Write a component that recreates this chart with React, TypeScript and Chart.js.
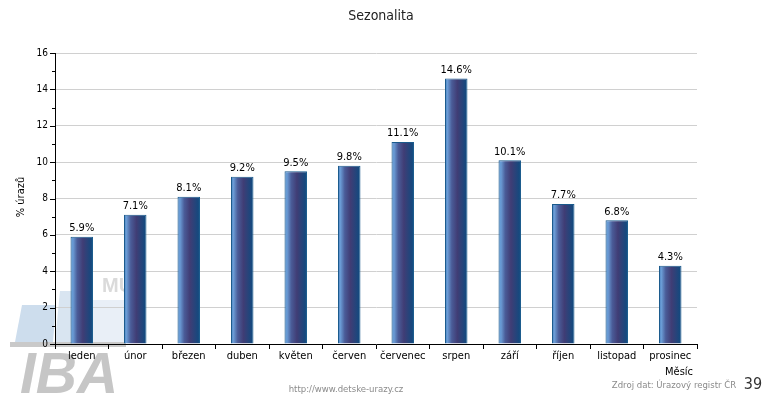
import React, { useEffect, useRef } from 'react';
import { Chart, registerables } from 'chart.js';
Chart.register(...registerables);

const months = ['leden', 'únor', 'březen', 'duben', 'květen', 'červen', 'červenec', 'srpen', 'září', 'říjen', 'listopad', 'prosinec'];
const values = [5.9, 7.1, 8.1, 9.2, 9.5, 9.8, 11.1, 14.6, 10.1, 7.7, 6.8, 4.3];
const yMin = 0;
const yMax = 16;
const yMajorStep = 2;

const FONT = '"DejaVu Sans Condensed", "DejaVu Sans", sans-serif';
const BAR_PCT = 0.42;

const watermarkPlugin = {
  id: 'watermark',
  beforeDraw(chart: any) {
    const ctx = chart.ctx;
    ctx.save();
    ctx.fillStyle = '#cddded';
    ctx.beginPath();
    ctx.moveTo(22, 305); ctx.lineTo(56, 305); ctx.lineTo(53, 342); ctx.lineTo(15, 342); ctx.closePath();
    ctx.fill();
    ctx.fillStyle = '#d9e5f1';
    ctx.beginPath();
    ctx.moveTo(60, 291); ctx.lineTo(74, 291); ctx.lineTo(72, 342); ctx.lineTo(55, 342); ctx.closePath();
    ctx.fill();
    ctx.fillStyle = '#e9eff7';
    ctx.beginPath();
    ctx.moveTo(72, 300); ctx.lineTo(126, 300); ctx.lineTo(126, 342); ctx.lineTo(70, 342); ctx.closePath();
    ctx.fill();
    ctx.fillStyle = '#c9c9c9';
    ctx.fillRect(10, 342, 116, 5);
    ctx.fillStyle = '#c6c6c6';
    ctx.font = 'italic bold 57px "Liberation Sans", sans-serif';
    ctx.textBaseline = 'alphabetic';
    ctx.textAlign = 'left';
    ctx.fillText('IBA', 20, 393);
    ctx.fillStyle = '#dadada';
    ctx.font = 'bold 20px "Liberation Sans", sans-serif';
    ctx.fillText('MU', 102, 292);
    ctx.restore();
  },
};

const decorPlugin = {
  id: 'decor',
  afterDraw(chart: any) {
    const ctx = chart.ctx;
    const y = chart.scales.y;
    const area = chart.chartArea;
    ctx.save();
    ctx.strokeStyle = '#000';
    ctx.lineWidth = 1;
    for (let v = yMin; v <= yMax; v++) {
      const py = Math.round(y.getPixelForValue(v)) + 0.5;
      const len = v % yMajorStep === 0 ? 5 : 3;
      ctx.beginPath();
      ctx.moveTo(area.left - len, py);
      ctx.lineTo(area.left, py);
      ctx.stroke();
    }
    ctx.fillStyle = '#000';
    ctx.font = '11px ' + FONT;
    ctx.textAlign = 'center';
    ctx.textBaseline = 'bottom';
    const meta = chart.getDatasetMeta(0);
    meta.data.forEach((el: any, i: number) => {
      ctx.fillText(values[i].toFixed(1) + '%', el.x, el.y - 3);
    });
    ctx.font = '14px ' + FONT;
    ctx.textBaseline = 'middle';
    ctx.fillStyle = '#222';
    ctx.fillText('Sezonalita', 381, 16);
    ctx.fillStyle = '#000';
    ctx.save();
    ctx.translate(21, 197);
    ctx.rotate(-Math.PI / 2);
    ctx.font = '11px ' + FONT;
    ctx.fillText('% úrazů', 0, 0);
    ctx.restore();
    ctx.font = '11px ' + FONT;
    ctx.fillText('Měsíc', 679, 372);
    ctx.fillStyle = '#8a8a8a';
    ctx.font = '9.5px ' + FONT;
    ctx.fillText('http://www.detske-urazy.cz', 346, 390);
    ctx.fillText('Zdroj dat: Úrazový registr ČR', 674, 386);
    ctx.fillStyle = '#333';
    ctx.font = '16px ' + FONT;
    ctx.fillText('39', 753, 385);
    ctx.restore();
  },
};

function barGradient(context: any) {
  const chart = context.chart;
  const xs = chart.scales && chart.scales.x;
  if (!xs || !xs.width || context.dataIndex === undefined) return '#3e3c74';
  const cx = xs.getPixelForValue(context.dataIndex);
  const w = (xs.width / months.length) * BAR_PCT;
  const x0 = cx - w / 2;
  const x1 = cx + w / 2;
  const g = chart.ctx.createLinearGradient(x0, 0, x1, 0);
  g.addColorStop(0, '#3f78b8');
  g.addColorStop(0.1, '#6c9fd8');
  g.addColorStop(0.3, '#4a5c98');
  g.addColorStop(0.55, '#403d75');
  g.addColorStop(1, '#0c4b80');
  return g;
}

export default function App() {
  const ref = useRef<HTMLCanvasElement>(null);
  useEffect(() => {
    const chart = new Chart(ref.current!, {
      type: 'bar',
      data: {
        labels: months,
        datasets: [
          {
            data: values,
            backgroundColor: barGradient as any,
            borderColor: '#1a5a8c',
            borderWidth: 1,
            borderSkipped: 'bottom',
            categoryPercentage: 1,
            barPercentage: BAR_PCT,
          },
        ],
      },
      options: {
        animation: false,
        responsive: false,
        layout: { padding: { left: 0, top: 53, right: 68, bottom: 0 } },
        plugins: { legend: { display: false }, title: { display: false }, tooltip: { enabled: false } },
        scales: {
          x: {
            offset: true,
            grid: { display: true, drawOnChartArea: false, drawTicks: true, tickLength: 5, tickColor: '#000', offset: true },
            border: { display: true, color: '#000', width: 1 },
            ticks: { color: '#000', font: { family: FONT, size: 11 }, padding: 1, maxRotation: 0, autoSkip: false },
            afterFit: (s: any) => { s.height = 57; },
          },
          y: {
            min: yMin,
            max: yMax,
            ticks: {
              stepSize: 1,
              autoSkip: false,
              color: '#000',
              padding: 7,
              font: { family: FONT, size: 10 },
              callback: (v: any) => (Number(v) % yMajorStep === 0 ? String(v) : ''),
            },
            grid: {
              drawTicks: false,
              color: (c: any) => (c.tick && c.tick.value % yMajorStep === 0 && c.tick.value !== 0 ? '#d0d0d0' : 'rgba(0,0,0,0)'),
            },
            border: { display: true, color: '#000', width: 1 },
            afterFit: (s: any) => { s.width = 55; },
          },
        },
      },
      plugins: [watermarkPlugin, decorPlugin],
    });
    return () => chart.destroy();
  }, []);
  return (
    <div style={{ position: 'fixed', left: 0, top: 0, width: 765, height: 401, background: '#fff' }}>
      <canvas ref={ref} width={765} height={401} style={{ width: 765, height: 401 }} />
    </div>
  );
}
